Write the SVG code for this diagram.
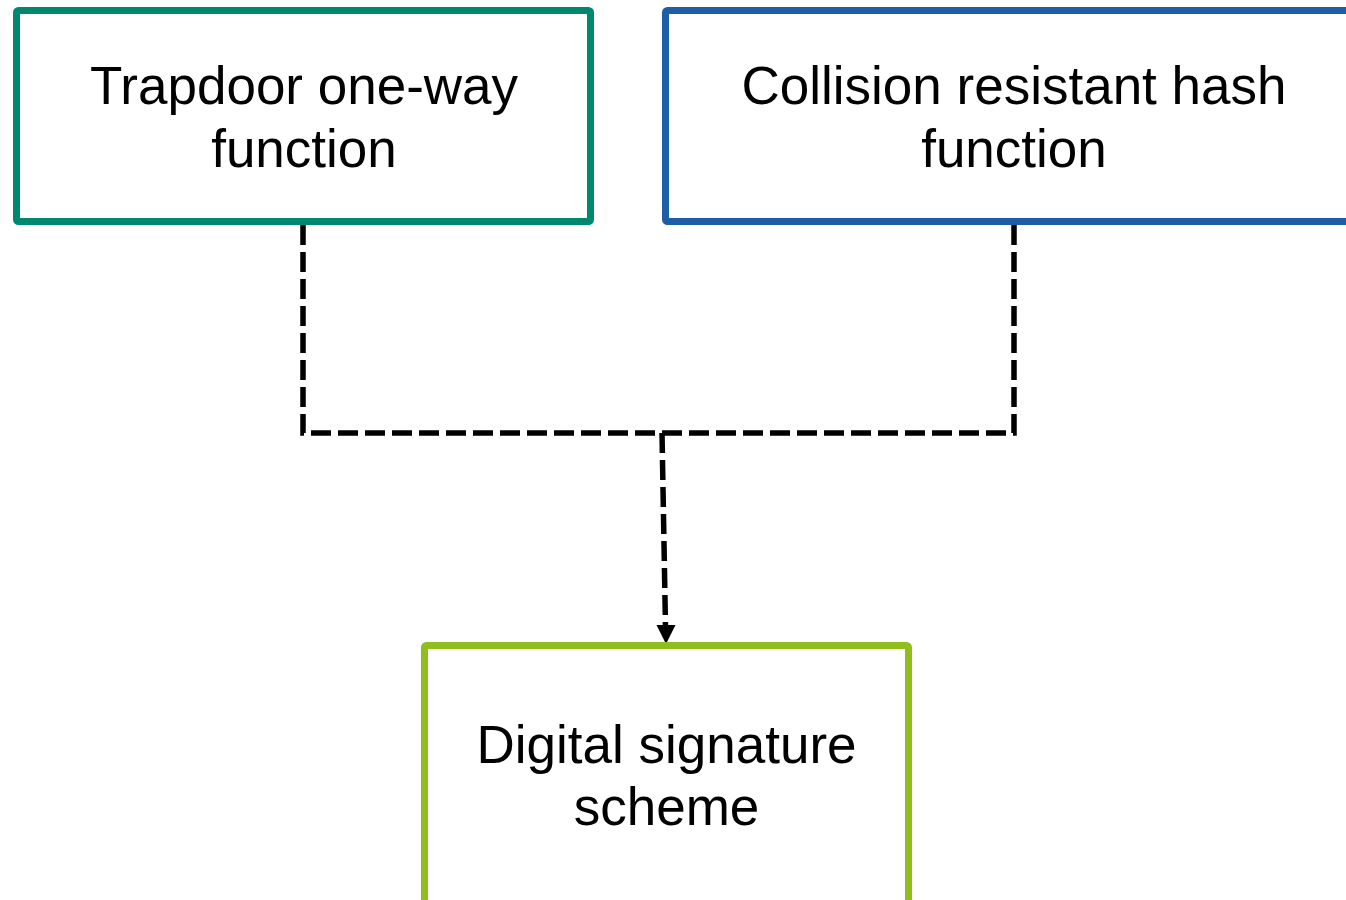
<svg xmlns="http://www.w3.org/2000/svg" width="1346" height="900" viewBox="0 0 1346 900">
<defs>
<style>
.box{fill:#fff;stroke-width:7;stroke-linejoin:round}
.lbl{font-family:"Liberation Sans",Arial,sans-serif;font-size:53px;fill:#000;text-anchor:middle}
.conn{fill:none;stroke:#000;stroke-width:5.5;stroke-dasharray:20 7}
</style>
</defs>
<rect width="1346" height="900" fill="#fff"/>
<g id="connectors">
<path class="conn" d="M303,225 V433 H1014 V225"/>
<path class="conn" d="M662,433 L665.5,627"/>
<path d="M656.5,625 L675.5,625 L666,644 Z" fill="#000"/>
</g>
<g id="node-trapdoor">
<rect class="box" x="16.5" y="10.5" width="574" height="211" rx="2" stroke="#00876f"/>
<text class="lbl" x="304" y="104">Trapdoor one-way</text>
<text class="lbl" x="304" y="167">function</text>
</g>
<g id="node-hash">
<rect class="box" x="665.5" y="10.5" width="697" height="211" rx="2" stroke="#1e5ea8"/>
<text class="lbl" x="1014" y="104">Collision resistant hash</text>
<text class="lbl" x="1014" y="167">function</text>
</g>
<g id="node-signature">
<rect class="box" x="424.5" y="645.5" width="484" height="258" rx="2" stroke="#8fbe1d"/>
<text class="lbl" x="666.5" y="763">Digital signature</text>
<text class="lbl" x="666.5" y="825">scheme</text>
</g>
</svg>
